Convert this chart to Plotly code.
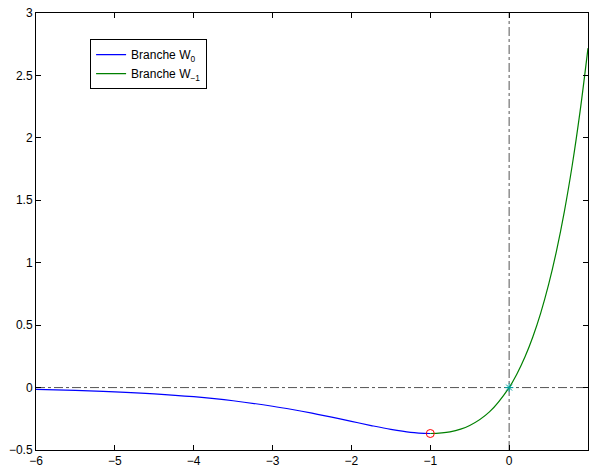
import plotly.graph_objects as go

# Branch W0 (blue)
x_w0 = [-6, -5.5, -5, -4.5, -4, -3.5, -3, -2.75, -2.5, -2.25, -2, -1.75, -1.5, -1.25, -1]
y_w0 = [-0.0149, -0.0225, -0.0337, -0.0500, -0.0733, -0.1057, -0.1494, -0.1758, -0.2052,
        -0.2372, -0.2707, -0.3041, -0.3347, -0.3581, -0.3679]

# Branch W-1 (green)
x_w1 = [-1, -0.75, -0.5, -0.25, 0, 0.1, 0.2, 0.3, 0.4, 0.5, 0.6, 0.7, 0.8, 0.9, 1]
y_w1 = [-0.3679, -0.3543, -0.3033, -0.1947, 0.0, 0.1105, 0.2443, 0.4050, 0.5967, 0.8244,
        1.0933, 1.4096, 1.7804, 2.2136, 2.7183]

min_pt = ([-1], [-0.3679])
origin_pt = ([0], [0])

x_ticks = [-6, -5, -4, -3, -2, -1, 0, 1]
x_labels = ["\u22126", "\u22125", "\u22124", "\u22123", "\u22122", "\u22121", "0", "1"]
y_ticks = [-0.5, 0, 0.5, 1, 1.5, 2, 2.5, 3]
y_labels = ["\u22120.5", "0", "0.5", "1", "1.5", "2", "2.5", "3"]

fig = go.Figure()
# reference dash-dot lines
fig.add_trace(go.Scatter(x=[-6, 1], y=[0, 0], mode="lines", showlegend=False,
                         line=dict(color="#555555", width=1, dash="dashdot")))
fig.add_trace(go.Scatter(x=[0, 0], y=[-0.5, 3], mode="lines", showlegend=False,
                         line=dict(color="#555555", width=1, dash="dashdot")))
fig.add_trace(go.Scatter(x=x_w0, y=y_w0, mode="lines", name="Branche W<sub>0</sub>",
                         line=dict(color="#0000ff", width=1.2, shape="spline")))
fig.add_trace(go.Scatter(x=x_w1, y=y_w1, mode="lines", name="Branche W<sub>\u22121</sub>",
                         line=dict(color="#008000", width=1.2, shape="spline")))
fig.add_trace(go.Scatter(x=min_pt[0], y=min_pt[1], mode="markers", showlegend=False,
                         marker=dict(symbol="circle-open", size=8, color="#ff0000", line=dict(width=1))))
fig.add_trace(go.Scatter(x=origin_pt[0], y=origin_pt[1], mode="markers", showlegend=False,
                         marker=dict(symbol="asterisk-open", size=7, color="#00a0a0", line=dict(width=1, color="#00a0a0"))))

axis_common = dict(showgrid=False, zeroline=False, showline=True, linecolor="black", linewidth=1,
                   mirror="ticks", ticks="inside", ticklen=5, tickcolor="black",
                   tickfont=dict(family="Liberation Sans, Arial", size=12, color="black"))

fig.update_layout(
    width=589, height=471,
    margin=dict(l=36, r=1, t=13, b=21),
    plot_bgcolor="white", paper_bgcolor="white",
    xaxis=dict(range=[-6, 1], tickvals=x_ticks, ticktext=x_labels, **axis_common),
    yaxis=dict(range=[-0.5, 3], tickvals=y_ticks, ticktext=y_labels, **axis_common),
    legend=dict(x=0.098, y=0.94, xanchor="left", yanchor="top", bgcolor="white",
                bordercolor="black", borderwidth=1,
                font=dict(family="Liberation Sans, Arial", size=12, color="black"),
                tracegroupgap=0, itemwidth=30),
    showlegend=True,
)

fig.write_html("out.html", config={"displayModeBar": False},
               post_script="document.body.style.margin='0';document.body.style.padding='0';document.body.style.overflow='hidden';")
